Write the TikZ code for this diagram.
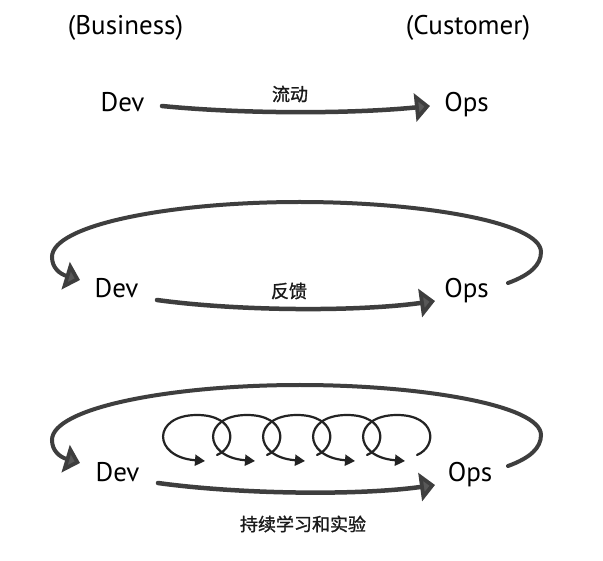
\documentclass[tikz,border=0pt]{standalone}
\usepackage{fontspec}
\setmainfont{PT Sans}
\newfontfamily\cjk[FakeBold=1.2]{Noto Sans CJK SC}
\usetikzlibrary{arrows.meta}
\definecolor{lineg}{RGB}{62,62,62}
\definecolor{headg}{RGB}{88,88,88}
\definecolor{loopg}{RGB}{35,35,35}
\begin{document}
\begin{tikzpicture}[x=1pt,y=-1pt,
  lbl/.style={font=\fontsize{27}{30}\selectfont, inner sep=0pt, anchor=base, text=black},
  cjklbl/.style={font=\cjk\fontsize{18}{20}\selectfont, inner sep=0pt, text=black!90},
  bighead/.style={-{Triangle[length=15pt,width=28pt,fill=headg]}},
  flowar/.style={line width=4.5pt, draw=lineg, line cap=round, bighead},
  fbar/.style={line width=4pt, draw=lineg, line cap=round, bighead},
  loopar/.style={line width=2.2pt, draw=loopg, line cap=round, -{Triangle[length=10pt,width=11pt]}}
]
\fill[white] (0,0) rectangle (603,561);
\useasboundingbox (0,0) rectangle (603,561);

% labels
\node[lbl] (bus) at (125.5,35) {(Business)};
\node[lbl] (cus) at (468,35) {(Customer)};
\node[lbl] (dev1) at (122.5,112) {Dev};
\node[lbl] (ops1) at (466.5,112) {Ops};
\node[lbl] (dev2) at (116.5,298) {Dev};
\node[lbl] (ops2) at (466.5,298) {Ops};
\node[lbl] (dev3) at (117.5,482) {Dev};
\node[lbl] (ops3) at (470,482) {Ops};
\node[cjklbl] (t1) at (290,94) {流动};
\node[cjklbl] (t2) at (289,291) {反馈};
\node[cjklbl] (t3) at (303,524) {持续学习和实验};

% flow arrows
\coordinate (a1s) at (162,106); \coordinate (a1e) at (430,106);
\coordinate (a2s) at (157,300); \coordinate (a2e) at (435,301);
\coordinate (a3s) at (158,483); \coordinate (a3e) at (435,485);
\draw[flowar] (a1s) .. controls +(80,8) and +(-80,8) .. (a1e);
\draw[flowar] (a2s) .. controls +(80,11) and +(-80,11) .. (a2e);
\draw[flowar] (a3s) .. controls +(80,11) and +(-80,11) .. (a3e);

% feedback loops
\foreach \dy/\r in {0/2,183/3}{
  \begin{scope}[shift={(0,\dy)}]
    \coordinate (f\r s) at (508,283);
    \coordinate (f\r e) at (80,280);
    \draw[fbar] (f\r s) .. controls (530,275) and (541,265) .. (541,252)
      .. controls (541,222) and (420,202) .. (300,202)
      .. controls (170,202) and (52,225) .. (52,257)
      .. controls (52,268) and (60,274) .. (f\r e);
  \end{scope}
}

% small learning loops
\foreach \i in {0,...,4}{
  \begin{scope}[shift={(50*\i,0)}]
    \draw[loopar] (217,455) .. controls (238,446) and (236,415) .. (197,415)
      .. controls (152,415) and (152,457) .. (205,461);
  \end{scope}
}
\end{tikzpicture}
\end{document}
